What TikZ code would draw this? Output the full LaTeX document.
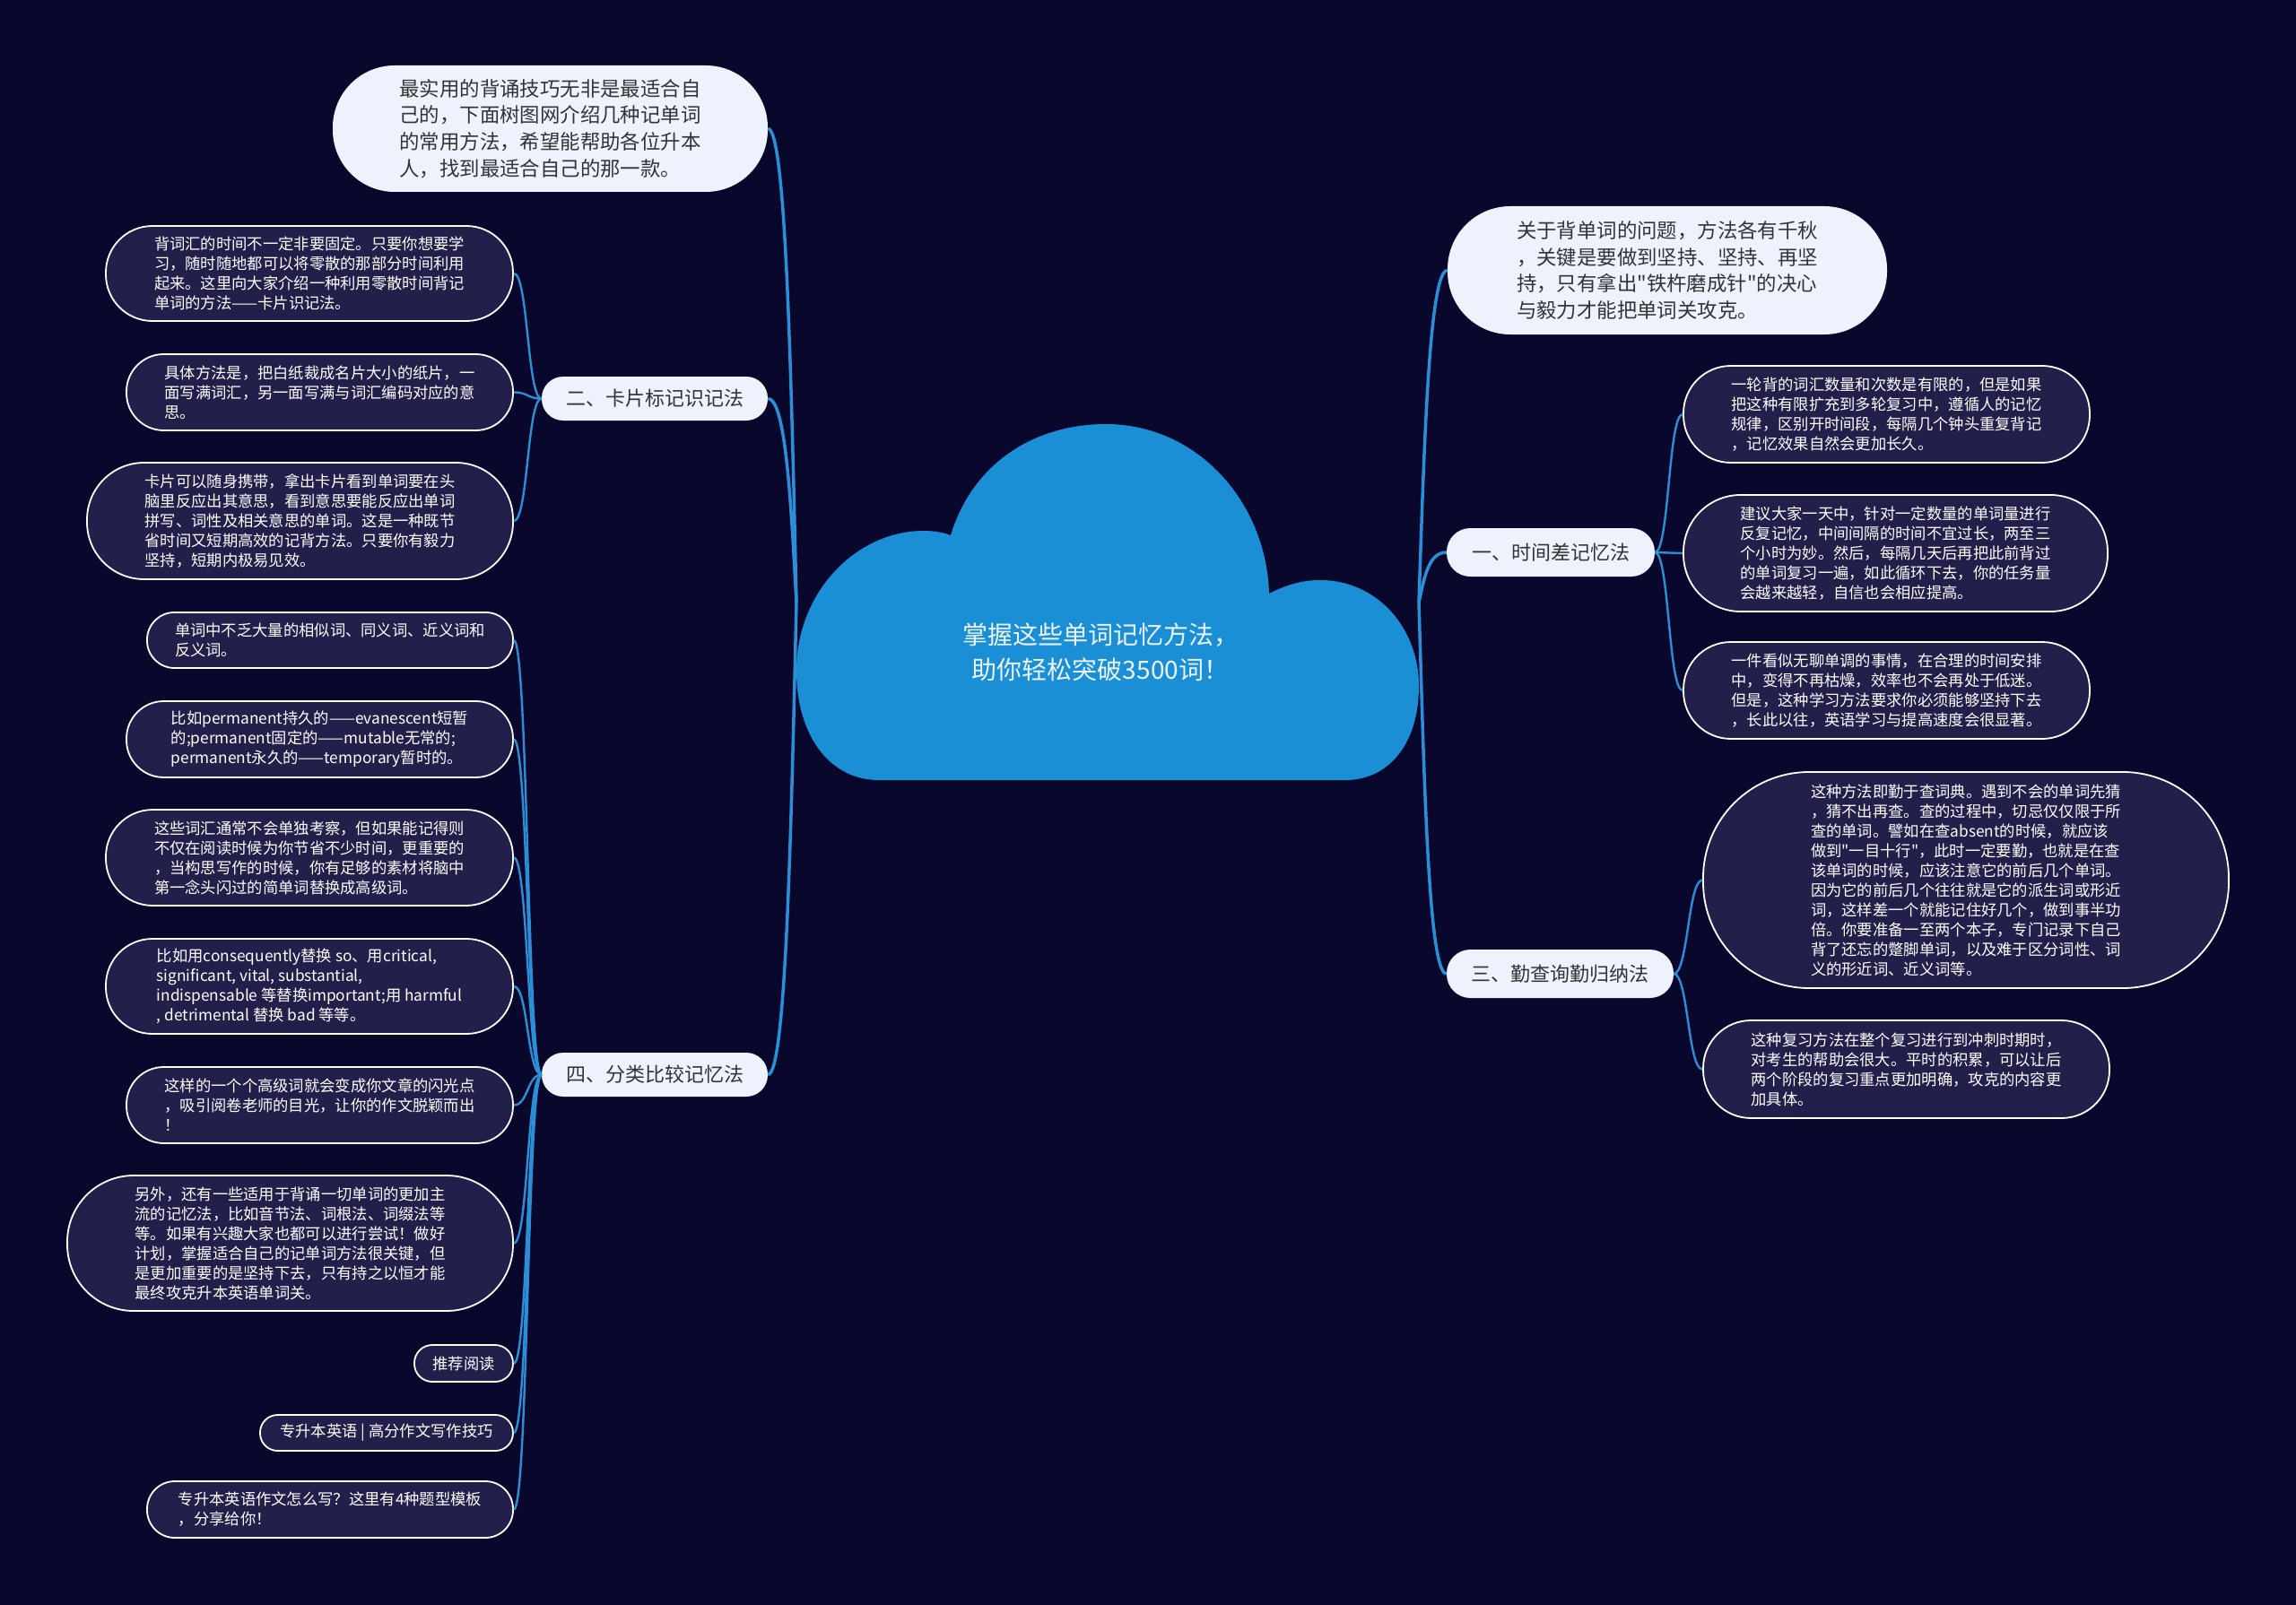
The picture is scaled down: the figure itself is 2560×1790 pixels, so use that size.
\documentclass[tikz,border=0pt]{standalone}
\usepackage{fontspec}
\setmainfont{Noto Sans CJK SC}[Ligatures=TeXOff]
\definecolor{bg}{HTML}{0A072C}
\definecolor{cloudblue}{HTML}{1A8FD5}
\definecolor{lightbox}{HTML}{EDF2FC}
\definecolor{leaffill}{HTML}{231F4B}
\definecolor{linkblue}{HTML}{2A8FD6}
\definecolor{labeltext}{HTML}{333333}
\definecolor{titletext}{HTML}{EEF4FF}
\begin{document}
\begin{tikzpicture}[x=1pt,y=-1pt,
  pill/.style n args={2}{minimum width=#1pt, minimum height=#2pt, rounded corners=#2*0.49pt},
  leaf/.style={draw=white, line width=1.8pt, fill=leaffill, text=white, align=left, inner sep=0pt, font=\fontsize{17.3}{22}\selectfont},
  intro/.style={fill=lightbox, text=labeltext, align=left, inner sep=0pt, font=\fontsize{22.4}{29.6}\selectfont},
  cat/.style={fill=lightbox, text=labeltext, inner sep=0pt, font=\fontsize{22}{26}\selectfont},
  mainlink/.style={draw=linkblue, line width=3.5pt},
  sublink/.style={draw=linkblue, line width=2.4pt},
]
\useasboundingbox (0,0) rectangle (2560,1790);
\fill[bg] (0,0) rectangle (2560,1790);

% cloud
\fill[cloudblue] (980,870) .. controls (925,870) and (888,820) .. (888,748)
  .. controls (888,660) and (955,592) .. (1030,592)
  .. controls (1042,592) and (1052,594) .. (1060,597)
  .. controls (1085,515) and (1155,473) .. (1233,473)
  .. controls (1335,473) and (1412,560) .. (1415,662)
  .. controls (1435,652) and (1452,647) .. (1472,647)
  .. controls (1535,647) and (1582,700) .. (1582,765)
  .. controls (1582,830) and (1548,870) .. (1500,870)
  -- cycle;
\node[font=\fontsize{28}{39}\selectfont, text=titletext, align=center, inner sep=0pt] (title) at (1227,727) {掌握这些单词记忆方法，\\助你轻松突破3500词！};

\coordinate (hubL) at (888,672);
\coordinate (hubR) at (1582,672);

% left side
\node[intro, pill={485}{141}] (introL) at (613.5,143.5) {最实用的背诵技巧无非是最适合自\\己的，下面树图网介绍几种记单词\\的常用方法，希望能帮助各位升本\\人，找到最适合自己的那一款。};
\node[cat, pill={252}{49}] (cat2) at (730,444.5) {二、卡片标记识记法};
\node[cat, pill={252}{49}] (cat4) at (730,1198.5) {四、分类比较记忆法};

\node[leaf, pill={454}{106}] (a1) at (345,305) {背词汇的时间不一定非要固定。只要你想要学\\习，随时随地都可以将零散的那部分时间利用\\起来。这里向大家介绍一种利用零散时间背记\\单词的方法——卡片识记法。};
\node[leaf, pill={431}{85}] (a2) at (356.5,437.5) {具体方法是，把白纸裁成名片大小的纸片，一\\面写满词汇，另一面写满与词汇编码对应的意\\思。};
\node[leaf, pill={475}{130}] (a3) at (334.5,581) {卡片可以随身携带，拿出卡片看到单词要在头\\脑里反应出其意思，看到意思要能反应出单词\\拼写、词性及相关意思的单词。这是一种既节\\省时间又短期高效的记背方法。只要你有毅力\\坚持，短期内极易见效。};

\node[leaf, pill={408}{62}] (b1) at (368,714) {单词中不乏大量的相似词、同义词、近义词和\\反义词。};
\node[leaf, pill={431}{85}] (b2) at (356.5,824.5) {比如permanent持久的——evanescent短暂\\的;permanent固定的——mutable无常的;\\permanent永久的——temporary暂时的。};
\node[leaf, pill={454}{107}] (b3) at (345,956.5) {这些词汇通常不会单独考察，但如果能记得则\\不仅在阅读时候为你节省不少时间，更重要的\\，当构思写作的时候，你有足够的素材将脑中\\第一念头闪过的简单词替换成高级词。};
\node[leaf, pill={454}{106}] (b4) at (345,1100) {比如用consequently替换 so、用critical,\\significant, vital, substantial,\\indispensable 等替换important;用 harmful\\, detrimental 替换 bad 等等。};
\node[leaf, pill={431}{85}] (b5) at (356.5,1232.5) {这样的一个个高级词就会变成你文章的闪光点\\，吸引阅卷老师的目光，让你的作文脱颖而出\\！};
\node[leaf, pill={497}{151}] (b6) at (323.5,1386.5) {另外，还有一些适用于背诵一切单词的更加主\\流的记忆法，比如音节法、词根法、词缀法等\\等。如果有兴趣大家也都可以进行尝试！做好\\计划，掌握适合自己的记单词方法很关键，但\\是更加重要的是坚持下去，只有持之以恒才能\\最终攻克升本英语单词关。};
\node[leaf, pill={110}{41}] (b7) at (517,1520.5) {推荐阅读};
\node[leaf, pill={282}{40}] (b8) at (431,1598) {专升本英语 | 高分作文写作技巧};
\node[leaf, pill={408}{63}] (b9) at (368,1683.5) {专升本英语作文怎么写？这里有4种题型模板\\，分享给你！};

% right side
\node[intro, pill={490}{143}] (introR) at (1859,301.5) {关于背单词的问题，方法各有千秋\\，关键是要做到坚持、坚持、再坚\\持，只有拿出"铁杵磨成针"的决心\\与毅力才能把单词关攻克。};
\node[cat, pill={232}{54}] (cat1) at (1729,616) {一、时间差记忆法};
\node[cat, pill={253}{54}] (cat3) at (1739.5,1086) {三、勤查询勤归纳法};

\node[leaf, pill={453}{108}] (c1) at (2103.5,462) {一轮背的词汇数量和次数是有限的，但是如果\\把这种有限扩充到多轮复习中，遵循人的记忆\\规律，区别开时间段，每隔几个钟头重复背记\\，记忆效果自然会更加长久。};
\node[leaf, pill={473}{130}] (c2) at (2113.5,617) {建议大家一天中，针对一定数量的单词量进行\\反复记忆，中间间隔的时间不宜过长，两至三\\个小时为妙。然后，每隔几天后再把此前背过\\的单词复习一遍，如此循环下去，你的任务量\\会越来越轻，自信也会相应提高。};
\node[leaf, pill={453}{108}] (c3) at (2103.5,770) {一件看似无聊单调的事情，在合理的时间安排\\中，变得不再枯燥，效率也不会再处于低迷。\\但是，这种学习方法要求你必须能够坚持下去\\，长此以往，英语学习与提高速度会很显著。};
\node[leaf, pill={586}{241}] (d1) at (2192,981.5) {这种方法即勤于查词典。遇到不会的单词先猜\\，猜不出再查。查的过程中，切忌仅仅限于所\\查的单词。譬如在查absent的时候，就应该\\做到"一目十行"，此时一定要勤，也就是在查\\该单词的时候，应该注意它的前后几个单词。\\因为它的前后几个往往就是它的派生词或形近\\词，这样差一个就能记住好几个，做到事半功\\倍。你要准备一至两个本子，专门记录下自己\\背了还忘的蹩脚单词，以及难于区分词性、词\\义的形近词、近义词等。};
\node[leaf, pill={453}{109}] (d2) at (2125.5,1192.5) {这种复习方法在整个复习进行到冲刺时期时，\\对考生的帮助会很大。平时的积累，可以让后\\两个阶段的复习重点更加明确，攻克的内容更\\加具体。};

% main connectors
\draw[mainlink] (hubL) .. controls +(-6,-260) and +(20,0) .. (introL.east);
\draw[mainlink] (hubL) .. controls +(-6,-110) and +(20,0) .. (cat2.east);
\draw[mainlink] (hubL) .. controls +(-6,260) and +(20,0) .. (cat4.east);
\draw[mainlink] (hubR) .. controls +(6,-180) and +(-20,0) .. (introR.west);
\draw[mainlink] (hubR) .. controls +(6,-28) and +(-20,0) .. (cat1.west);
\draw[mainlink] (hubR) .. controls +(6,200) and +(-20,0) .. (cat3.west);

% sub connectors
\foreach \t in {a1,a2,a3}
  \draw[sublink] (cat2.west) .. controls +(-16,0) and +(16,0) .. (\t.east);
\foreach \t in {b1,b2,b3,b4,b5,b6,b7,b8,b9}
  \draw[sublink] (cat4.west) .. controls +(-16,0) and +(16,0) .. (\t.east);
\foreach \t in {c1,c2,c3}
  \draw[sublink] (cat1.east) .. controls +(16,0) and +(-16,0) .. (\t.west);
\foreach \t in {d1,d2}
  \draw[sublink] (cat3.east) .. controls +(16,0) and +(-16,0) .. (\t.west);
\end{tikzpicture}
\end{document}
